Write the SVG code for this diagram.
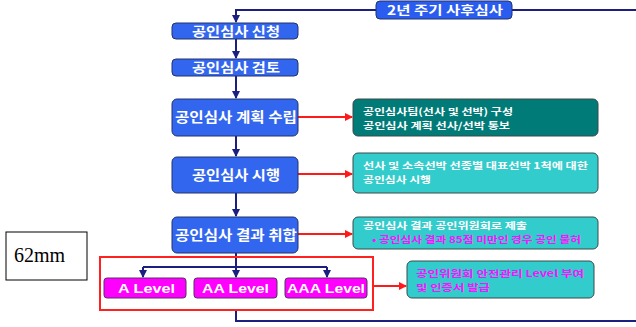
<svg xmlns="http://www.w3.org/2000/svg" width="636" height="327" viewBox="0 0 636 327">
<style>
.nv{stroke:#1a1f80;stroke-width:2;fill:none}
.rd{stroke:#ff1a1a;stroke-width:2;fill:none}
.mb{fill:#3366ee;stroke:#22336e;stroke-width:1}
.tb{stroke:#3a4a4a;stroke-width:1}
.lv{fill:#ff00ff;stroke:#553366;stroke-width:1}
.wt{font-family:"Noto Sans CJK KR","Noto Sans",sans-serif;font-weight:bold;fill:#fff}
.st{font-family:"Noto Sans CJK KR","Noto Sans",sans-serif;font-weight:bold;font-size:9.5px;fill:#fff}
.mg{fill:#ff10ff}
.lt{font-family:"Liberation Sans",Arial,sans-serif;font-weight:bold;font-size:13px;fill:#fff}
</style>
<defs>
<marker id="an" markerWidth="8" markerHeight="8" refX="7" refY="4" orient="auto" markerUnits="userSpaceOnUse"><path d="M0,0 L8,4 L0,8 z" fill="#1a1f80"/></marker>
<marker id="ar" markerWidth="8" markerHeight="8" refX="7" refY="4" orient="auto" markerUnits="userSpaceOnUse"><path d="M0,0 L8,4 L0,8 z" fill="#ff1a1a"/></marker>
</defs>
<rect width="636" height="327" fill="#fff"/>
<g id="connectors">
<path class="nv" d="M636,10 L236,10 L236,22" marker-end="url(#an)"/>
<path class="nv" d="M236,39 L236,58" marker-end="url(#an)"/>
<path class="nv" d="M236,76 L236,98" marker-end="url(#an)"/>
<path class="nv" d="M236,136 L236,156" marker-end="url(#an)"/>
<path class="nv" d="M236,193 L236,216" marker-end="url(#an)"/>
<path class="nv" d="M236,253 L236,267"/>
<path class="nv" d="M143,267 L327,267"/>
<path class="nv" d="M143,267 L143,277" marker-end="url(#an)"/>
<path class="nv" d="M236,267 L236,277" marker-end="url(#an)"/>
<path class="nv" d="M327,267 L327,277" marker-end="url(#an)"/>
<path class="nv" d="M236,310 L236,321 L636,321"/>
<path class="rd" d="M298,117 L352,117" marker-end="url(#ar)"/>
<path class="rd" d="M298,174 L352,174" marker-end="url(#ar)"/>
<path class="rd" d="M298,234 L352,234" marker-end="url(#ar)"/>
<path class="rd" d="M374,286 L406,286" marker-end="url(#ar)"/>
</g>
<g id="cycle">
<rect x="376" y="1" width="136" height="18" rx="4" fill="#2a5cf0" stroke="#22336e"/>
<text class="wt" x="387" y="15" font-size="12.5" textLength="116" lengthAdjust="spacingAndGlyphs">2년 주기 사후심사</text>
</g>
<g id="n1"><rect class="mb" x="172" y="23" width="126" height="16" rx="4"/><text class="wt" x="192" y="36" font-size="13" textLength="88" lengthAdjust="spacingAndGlyphs">공인심사 신청</text></g>
<g id="n2"><rect class="mb" x="172" y="59" width="126" height="17" rx="4"/><text class="wt" x="192" y="72" font-size="13" textLength="88" lengthAdjust="spacingAndGlyphs">공인심사 검토</text></g>
<g id="n3"><rect class="mb" x="172" y="99" width="126" height="37" rx="5"/><text class="wt" x="175" y="122" font-size="13.5" textLength="122" lengthAdjust="spacingAndGlyphs">공인심사 계획 수립</text></g>
<g id="n4"><rect class="mb" x="172" y="157" width="126" height="36" rx="5"/><text class="wt" x="192" y="180" font-size="13.5" textLength="88" lengthAdjust="spacingAndGlyphs">공인심사 시행</text></g>
<g id="n5"><rect class="mb" x="172" y="217" width="126" height="36" rx="5"/><text class="wt" x="175" y="240" font-size="13.5" textLength="122" lengthAdjust="spacingAndGlyphs">공인심사 결과 취합</text></g>
<g id="s1"><rect class="tb" x="353" y="99" width="245" height="37" rx="5" fill="#007b78"/>
<text class="st" x="363" y="115" textLength="150" lengthAdjust="spacingAndGlyphs">공인심사팀(선사 및 선박) 구성</text><text class="st" x="363" y="129" textLength="147" lengthAdjust="spacingAndGlyphs">공인심사 계획 선사/선박 통보</text></g>
<g id="s2"><rect class="tb" x="353" y="153" width="245" height="40" rx="5" fill="#33cccc"/>
<text class="st" x="363" y="169" textLength="225" lengthAdjust="spacingAndGlyphs">선사 및 소속선박 선종별 대표선박 1척에 대한</text><text class="st" x="363" y="183" textLength="68" lengthAdjust="spacingAndGlyphs">공인심사 시행</text></g>
<g id="s3"><rect class="tb" x="353" y="217" width="245" height="32" rx="5" fill="#33cccc"/>
<text class="st" x="363" y="229" textLength="164" lengthAdjust="spacingAndGlyphs">공인심사 결과 공인위원회로 제출</text><text class="st mg" x="372" y="243" textLength="209" lengthAdjust="spacingAndGlyphs">• 공인심사 결과 85점 미만인 경우 공인 불허</text></g>
<g id="s4"><rect class="tb" x="407" y="261" width="187" height="37" rx="5" fill="#33cccc"/>
<text class="st mg" x="416" y="277" textLength="168" lengthAdjust="spacingAndGlyphs">공인위원회  안전관리 Level 부여</text><text class="st mg" x="416" y="291" textLength="74" lengthAdjust="spacingAndGlyphs">및 인증서 발급</text></g>
<g id="levels">
<rect x="100" y="257" width="273" height="53" fill="none" stroke="#ff2020" stroke-width="2"/>
<g id="la"><rect class="lv" x="104" y="278" width="82" height="20" rx="3"/><text class="lt" x="118" y="293" textLength="57" lengthAdjust="spacingAndGlyphs">A Level</text></g>
<g id="laa"><rect class="lv" x="194" y="278" width="83" height="20" rx="3"/><text class="lt" x="202" y="293" textLength="67" lengthAdjust="spacingAndGlyphs">AA Level</text></g>
<g id="laaa"><rect class="lv" x="285" y="278" width="82" height="20" rx="3"/><text class="lt" x="287" y="293" textLength="78" lengthAdjust="spacingAndGlyphs">AAA Level</text></g>
</g>
<g id="size">
<rect x="6" y="232" width="81" height="48" fill="#fff" stroke="#000" stroke-width="1"/>
<text x="14" y="262" font-family="Liberation Serif,serif" font-size="20">62mm</text>
</g>
</svg>
